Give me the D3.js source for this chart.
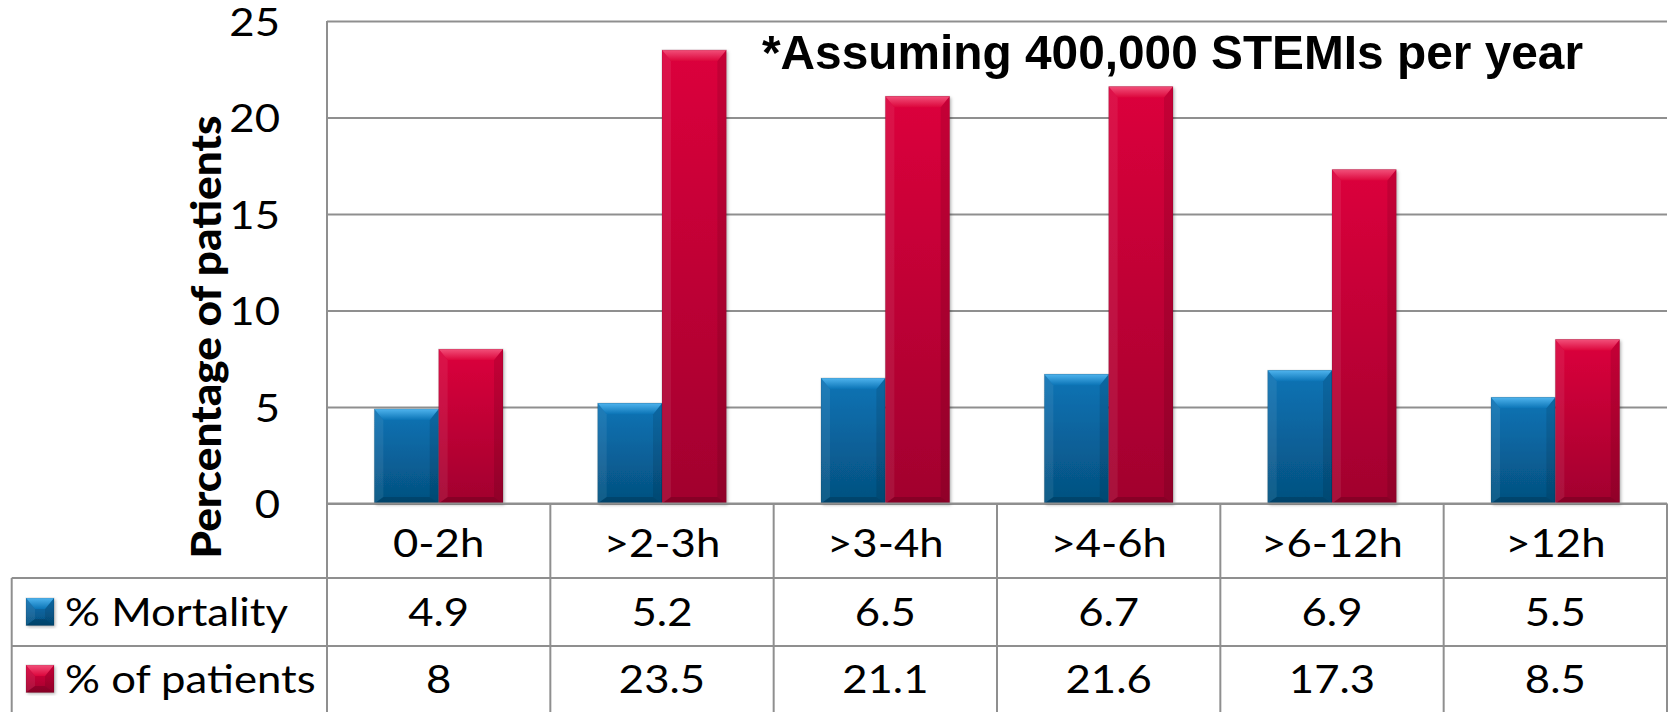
<!DOCTYPE html>
<html>
<head>
<meta charset="utf-8">
<script src="https://cdn.jsdelivr.net/npm/d3@7"></script>
<style>
  html, body { margin: 0; padding: 0; background: #ffffff; }
  svg { display: block; }
</style>
</head>
<body>
<svg id="chart" width="1669" height="712"></svg>
<script>
// Time-to-treatment groups and the two series shown per group
const categories = ["0-2h", ">2-3h", ">3-4h", ">4-6h", ">6-12h", ">12h"];
const seriesNames = ["% Mortality", "% of patients"];
const mortality = [4.9, 5.2, 6.5, 6.7, 6.9, 5.5];
const patients = [8, 23.5, 21.1, 21.6, 17.3, 8.5];
const yTicks = [0, 5, 10, 15, 20, 25];
const yTitle = "Percentage of patients";
const note = "*Assuming 400,000 STEMIs per year";

const seriesValues = [mortality, patients];

const W = 1669, H = 712;
const plot = { left: 327, right: 1667, top: 21, bottom: 503.5 };
const tableLeft = 11.7;
const rowLines = [578, 646, 712];
const gridColor = "#8f8f8f";
const bodyFont = "Lato, 'Open Sans', sans-serif";
const bodySize = 39;
const SX = 1.12; // horizontal widening of the body text

const palette = [
  { top: "#0b74b6", bottom: "#05507f", bevelTop: "#4fb4ee", bevelBot: "#0b74b6" },
  { top: "#dc063c", bottom: "#a1042e", bevelTop: "#f2507a", bevelBot: "#dc063c" }
];

const svg = d3.select("#chart");
const defs = svg.append("defs");

palette.forEach((p, i) => {
  const g = defs.append("linearGradient").attr("id", "fill" + i)
    .attr("x1", 0).attr("y1", 0).attr("x2", 0).attr("y2", 1);
  g.append("stop").attr("offset", "0%").attr("stop-color", p.top);
  g.append("stop").attr("offset", "100%").attr("stop-color", p.bottom);
  const b = defs.append("linearGradient").attr("id", "bevel" + i)
    .attr("x1", 0).attr("y1", 0).attr("x2", 0).attr("y2", 1);
  b.append("stop").attr("offset", "0%").attr("stop-color", p.bevelTop);
  b.append("stop").attr("offset", "100%").attr("stop-color", p.bevelBot);
});

const shadow = defs.append("filter").attr("id", "barShadow")
  .attr("x", "-10%").attr("y", "-5%").attr("width", "130%").attr("height", "115%");
shadow.append("feDropShadow").attr("dx", 1.5).attr("dy", 1.5)
  .attr("stdDeviation", 1.5).attr("flood-color", "#000").attr("flood-opacity", 0.28);

// Scales
const y = d3.scaleLinear().domain([0, 25]).range([plot.bottom, plot.top]);
const x = d3.scaleBand().domain(categories).range([plot.left, plot.right]).padding(0);
const groupFrac = 0.576;
const gw = x.bandwidth() * groupFrac;
const x1 = d3.scaleBand().domain(seriesNames)
  .range([(x.bandwidth() - gw) / 2, (x.bandwidth() + gw) / 2]).padding(0);

// Gridlines and y tick labels
const yAxis = d3.axisLeft(y).tickValues(yTicks)
  .tickSize(-(plot.right - plot.left)).tickPadding(47).tickFormat(d3.format("d"));
const ga = svg.append("g").attr("transform", `translate(${plot.left},0)`).call(yAxis);
ga.select(".domain").remove();
ga.selectAll(".tick line").attr("stroke", gridColor).attr("stroke-width", 2);
ga.selectAll(".tick text")
  .attr("font-family", bodyFont).attr("font-size", bodySize).attr("fill", "#000")
  .attr("x", 0).attr("dy", "0.36em")
  .attr("transform", `translate(-47,0) scale(${SX},1)`);

// Bars with a bevelled face
function drawBar(g, bx, by, bw, bh, si) {
  const b = Math.min(11, bh / 2, bw / 2);
  const side = Math.min(9, bw / 2);
  g.append("rect").attr("x", bx).attr("y", by).attr("width", bw).attr("height", bh)
    .attr("fill", `url(#fill${si})`).attr("filter", "url(#barShadow)");
  // left face
  g.append("path")
    .attr("d", `M${bx},${by} L${bx + side},${by + b} L${bx + side},${by + bh - b * 0.6} L${bx},${by + bh} Z`)
    .attr("fill", "#ffffff").attr("opacity", 0.07);
  // right face
  g.append("path")
    .attr("d", `M${bx + bw},${by} L${bx + bw - side},${by + b} L${bx + bw - side},${by + bh - b * 0.6} L${bx + bw},${by + bh} Z`)
    .attr("fill", "#000000").attr("opacity", 0.1);
  // bottom face
  g.append("path")
    .attr("d", `M${bx},${by + bh} L${bx + side},${by + bh - b * 0.6} L${bx + bw - side},${by + bh - b * 0.6} L${bx + bw},${by + bh} Z`)
    .attr("fill", "#000000").attr("opacity", 0.16);
  // top face
  g.append("path")
    .attr("d", `M${bx},${by} L${bx + bw},${by} L${bx + bw - side},${by + b} L${bx + side},${by + b} Z`)
    .attr("fill", `url(#bevel${si})`);
  g.append("rect").attr("x", bx).attr("y", by).attr("width", bw).attr("height", bh)
    .attr("fill", "none").attr("stroke", "#000").attr("stroke-opacity", 0.12).attr("stroke-width", 1);
}

const barsG = svg.append("g");
categories.forEach((c, ci) => {
  seriesNames.forEach((s, si) => {
    const v = seriesValues[si][ci];
    const bx = x(c) + x1(s);
    const by = y(v);
    drawBar(barsG.append("g"), bx, by, x1.bandwidth(), y(0) - by, si);
  });
});

// Data table under the plot
const tg = svg.append("g");
const lineAttr = sel => sel.attr("stroke", gridColor).attr("stroke-width", 2);
lineAttr(tg.append("line").attr("x1", plot.left).attr("x2", plot.right).attr("y1", y(0)).attr("y2", y(0)));
[rowLines[0], rowLines[1]].forEach(ry =>
  lineAttr(tg.append("line").attr("x1", tableLeft).attr("x2", plot.right).attr("y1", ry).attr("y2", ry)));
lineAttr(tg.append("line").attr("x1", plot.left).attr("x2", plot.left).attr("y1", plot.top).attr("y2", H));
categories.forEach((c, ci) => {
  if (ci === 0) return;
  lineAttr(tg.append("line").attr("x1", x(c)).attr("x2", x(c)).attr("y1", y(0)).attr("y2", H));
});
lineAttr(tg.append("line").attr("x1", plot.right).attr("x2", plot.right).attr("y1", y(0)).attr("y2", H));
lineAttr(tg.append("line").attr("x1", tableLeft).attr("x2", tableLeft).attr("y1", rowLines[0]).attr("y2", H));

const cellText = (tx, ty, str, anchor) => tg.append("text")
  .attr("transform", `translate(${tx},${ty}) scale(${SX},1)`)
  .attr("text-anchor", anchor || "middle")
  .attr("font-family", bodyFont).attr("font-size", bodySize).attr("fill", "#000").text(str);

// Category labels
categories.forEach(c => cellText(x(c) + x.bandwidth() / 2, 556.5, c));
// Series rows with legend keys
const rowBaselines = [625.5, 692.5];
seriesNames.forEach((s, si) => {
  seriesValues[si].forEach((v, ci) => cellText(x(categories[ci]) + x.bandwidth() / 2, rowBaselines[si], d3.format("")(v)));
  drawBar(tg.append("g"), 26, rowBaselines[si] - 27.5, 28, 27.5, si);
  cellText(65, rowBaselines[si], s, "start");
});

// Y axis title
const title = svg.append("text")
  .attr("transform", `translate(220.5,337) rotate(-90)`)
  .attr("text-anchor", "middle")
  .attr("font-family", bodyFont).attr("font-weight", 900).attr("font-size", 41)
  .attr("fill", "#000").text(yTitle);
const tl = title.node().getComputedTextLength();
if (Math.abs(tl - 443) > 4) title.attr("textLength", 443).attr("lengthAdjust", "spacingAndGlyphs");

// Note inside the plot
const noteText = svg.append("text")
  .attr("x", 762).attr("y", 69)
  .attr("font-family", "'Liberation Sans', Arial, sans-serif").attr("font-weight", 700)
  .attr("font-size", 48.5).attr("fill", "#000").text(note);
const nl = noteText.node().getComputedTextLength();
if (Math.abs(nl - 821) > 4) noteText.attr("textLength", 821).attr("lengthAdjust", "spacingAndGlyphs");
</script>
</body>
</html>
